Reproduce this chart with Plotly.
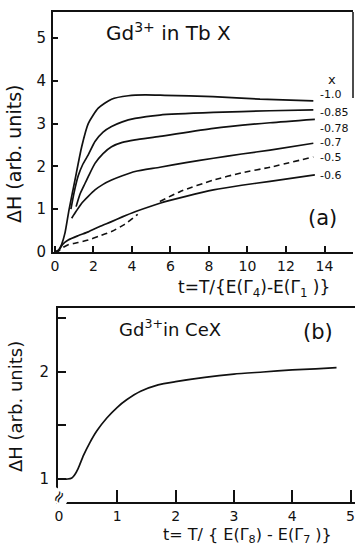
import plotly.graph_objects as go

# ---- panel (a): Gd3+ in TbX, linewidth vs reduced temperature ----
t_10 = [0, 0.2, 0.35, 0.52, 0.73, 1.04, 1.39, 1.73, 2.25, 2.94, 3.81, 4.68, 5.7, 8.2, 10.65, 13.42]
h_10 = [0, 0.05, 0.18, 0.44, 0.98, 1.68, 2.46, 3.0, 3.36, 3.57, 3.65, 3.67, 3.66, 3.63, 3.57, 3.53]

t_085 = [0.83, 1.0, 1.21, 1.45, 1.73, 2.08, 2.5, 2.94, 3.5, 4.16, 5.45, 8.23, 11.17, 13.42]
h_085 = [1.0, 1.4, 1.78, 2.05, 2.27, 2.58, 2.8, 2.93, 3.04, 3.12, 3.2, 3.26, 3.3, 3.32]

t_078 = [1.1, 1.3, 1.56, 1.73, 2.08, 2.5, 2.94, 3.5, 4.16, 5.45, 8.23, 11.17, 13.5]
h_078 = [1.06, 1.35, 1.6, 1.76, 2.07, 2.3, 2.46, 2.56, 2.62, 2.7, 2.89, 3.02, 3.1]

t_07 = [0.87, 1.1, 1.39, 1.73, 2.08, 2.5, 2.94, 3.5, 4.16, 5.45, 6.8, 8.23, 9.7, 11.17, 13.42]
h_07 = [0.79, 0.95, 1.14, 1.3, 1.45, 1.58, 1.68, 1.78, 1.88, 1.98, 2.09, 2.19, 2.29, 2.38, 2.54]

t_06 = [0, 0.17, 0.4, 0.69, 1.2, 1.73, 2.3, 2.94, 3.5, 4.16, 5.45, 6.8, 8.23, 9.7, 11.17, 13.5]
h_06 = [0, 0.02, 0.18, 0.28, 0.38, 0.47, 0.59, 0.71, 0.82, 0.94, 1.14, 1.3, 1.45, 1.56, 1.65, 1.8]

t_05 = [0, 0.2, 0.4, 0.69, 1.2, 1.73, 2.3, 2.94, 3.6, 4.3, None, 5.45, 6.49, 8.23, 9.7, 11.17, 13.42]
h_05 = [0, 0.03, 0.1, 0.17, 0.22, 0.28, 0.37, 0.48, 0.64, 0.88, None, 1.18, 1.41, 1.68, 1.85, 1.98, 2.22]

x_labels = ["1.0", "0.85", "0.78", "0.7", "0.5", "0.6"]
x_label_pos = [3.67, 3.27, 2.88, 2.55, 2.2, 1.78]

# ---- panel (b): Gd3+ in CeX ----
t_b = [0.07, 0.15, 0.22, 0.27, 0.33, 0.42, 0.53, 0.65, 0.82, 1.0, 1.16, 1.4, 1.7,
       2.0, 2.5, 3.0, 3.5, 4.0, 4.4, 4.76]
h_b = [1.0, 1.0, 1.01, 1.04, 1.1, 1.22, 1.34, 1.45, 1.57, 1.67, 1.74, 1.82, 1.88,
       1.91, 1.95, 1.98, 2.0, 2.02, 2.03, 2.04]

xticks_a = [0, 2, 4, 6, 8, 10, 12, 14]
yticks_a = [0, 1, 2, 3, 4, 5]
xticks_b = [0, 1, 2, 3, 4, 5]
yticks_b = [1, 1.5, 2, 2.5]
yticktext_b = ["1", "", "2", ""]

FONT = "DejaVu Sans"
INK = "#111111"
W, H = 355, 548

fig = go.Figure()

solid = dict(color=INK, width=1.7, shape="spline", smoothing=0.6)
for tx, hy in [(t_10, h_10), (t_085, h_085), (t_078, h_078), (t_07, h_07), (t_06, h_06)]:
    fig.add_trace(go.Scatter(x=tx, y=hy, mode="lines", line=solid,
                             xaxis="x", yaxis="y", showlegend=False, hoverinfo="skip"))
fig.add_trace(go.Scatter(x=t_05, y=h_05, mode="lines",
                         line=dict(color=INK, width=1.6, dash="6px,4px", shape="spline", smoothing=0.6),
                         connectgaps=False, xaxis="x", yaxis="y", showlegend=False, hoverinfo="skip"))
fig.add_trace(go.Scatter(x=t_b, y=h_b, mode="lines", line=solid,
                         xaxis="x2", yaxis="y2", showlegend=False, hoverinfo="skip"))

axis_common = dict(showgrid=False, zeroline=False, showline=True, linecolor=INK, linewidth=2,
                   ticks="inside", tickcolor=INK, tickwidth=1.6,
                   tickfont=dict(family=FONT, size=15, color=INK))

fig.update_layout(
    width=W, height=H,
    margin=dict(l=0, r=0, t=0, b=0, autoexpand=False),
    paper_bgcolor="white", plot_bgcolor="white",
    xaxis=dict(axis_common, domain=[53 / W, 353 / W], range=[-0.1, 15.48],
               tickvals=xticks_a, ticklen=6, mirror=True, anchor="y", ticklabelstandoff=0,
               tickfont=dict(family=FONT, size=14, color=INK)),
    yaxis=dict(axis_common, domain=[1 - 252 / H, 1 - 12 / H], range=[0, 5.607],
               tickvals=yticks_a, ticklen=5, anchor="x", ticklabelstandoff=2),
    xaxis2=dict(axis_common, domain=[58 / W, 1.0], range=[-0.017, 5.077],
                tickvals=xticks_b, ticklen=12, mirror=True, anchor="y2", ticklabelstandoff=0,
                tickfont=dict(family=FONT, size=14, color=INK)),
    yaxis2=dict(axis_common, domain=[1 - 502 / H, 1 - 308 / H], range=[0.785, 2.598],
                tickvals=yticks_b, ticktext=yticktext_b, ticklen=8, anchor="x2", ticklabelstandoff=4),
)

# partial right frame of panel (a)
fig.add_shape(type="line", xref="paper", yref="y", x0=353 / W, x1=353 / W, y0=3.6, y1=5.607,
              line=dict(color=INK, width=1.5))


def note(text, x, y, xref="paper", yref="paper", size=16, angle=0, xanchor="center", **kw):
    return dict(text=text, x=x, y=y, xref=xref, yref=yref, textangle=angle,
                xanchor=xanchor, yanchor="middle", showarrow=False,
                font=dict(family=FONT, size=size, color=INK), **kw)


ann = []
# panel (a) texts
ann.append(note("Gd<sup>3+</sup> in Tb X", 168 / W, 1 - 32 / H, size=20))
ann.append(note("ΔH (arb. units)", 14 / W, 1 - 154 / H, size=19, angle=-90))
ann.append(note("t=T/{E(Γ<sub>4</sub>)-E(Γ<sub>1</sub> )}", 254 / W, 1 - 288 / H, size=17))
ann.append(note("(a)", 13.9, 0.79, "x", "y", size=21))
ann.append(note("x", 14.4, 4.03, "x", "y", size=13))
for lab, yy in zip(x_labels, x_label_pos):
    ann.append(note("-" + lab, 13.7, yy, "x", "y", size=11, xanchor="left", borderpad=0))

# panel (b) texts
ann.append(note("Gd<sup>3+</sup>in CeX", 170 / W, 1 - 328 / H, size=18))
ann.append(note("(b)", 4.44, 2.37, "x2", "y2", size=21))
ann.append(note("ΔH (arb. units)", 15 / W, 1 - 407 / H, size=18, angle=-90))
ann.append(note("t= T/ { E(Γ<sub>8</sub>) - E(Γ<sub>7</sub> )}", 248 / W, 1 - 535 / H, size=16))
# axis break mark on the lower y axis
ann.append(note("≈", 58 / W, 0.83, "paper", "y2", size=16, angle=-60,
                bgcolor="white", borderpad=0))

fig.update_layout(annotations=ann)

fig.write_html("out.html")
